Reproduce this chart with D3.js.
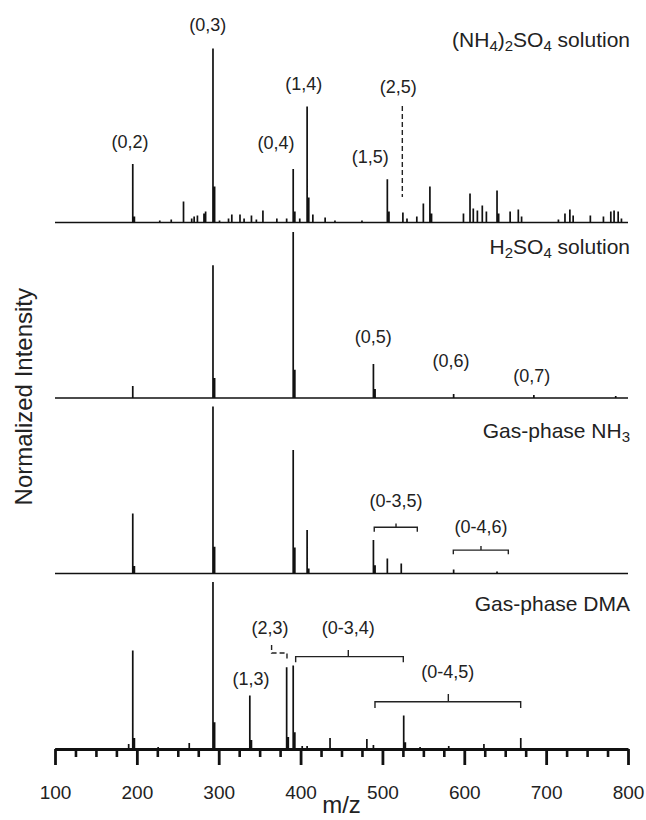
<!DOCTYPE html>
<html>
<head>
<meta charset="utf-8">
<script src="https://cdn.jsdelivr.net/npm/d3@7"></script>
<style>
body{margin:0;background:#fff;}
svg text{font-family:"Liberation Sans",Arial,sans-serif;fill:#222;}
</style>
</head>
<body>
<div id="chart"></div>
<script>
(function(){
var width = 646,
	height = 820,
	x0 = 55,
	x1 = 628;

// panel baselines and full-scale heights (px)
var baselines = [222.5, 398, 573.5, 749],
	heights = [174, 166, 167, 167];

// ---- data: peak m/z and normalized intensity ----
var mzAS  = [195,197,228,242,257,267,270,274,282,284,293,295,301,312,316,326,331,340,346,354,371,383,391,393,399,408,410,415,430,442,475,506,508,525,530,542,550,558,560,599,607,611,616,622,627,640,642,656,666,670,715,723,729,733,754,770,779,783,788,792];
var intAS = [0.336,0.034,0.011,0.017,0.12,0.023,0.034,0.04,0.052,0.063,1.0,0.207,0.011,0.023,0.046,0.046,0.023,0.04,0.017,0.069,0.023,0.023,0.307,0.063,0.023,0.666,0.144,0.046,0.029,0.011,0.011,0.248,0.063,0.057,0.023,0.034,0.109,0.207,0.052,0.052,0.167,0.08,0.069,0.098,0.063,0.184,0.052,0.063,0.075,0.034,0.017,0.052,0.075,0.04,0.04,0.034,0.063,0.069,0.063,0.023];

var mzSA  = [195,293,295,391,393,489,491,587,685,785];
var intSA = [0.072,0.80,0.12,1.0,0.17,0.205,0.054,0.024,0.018,0.012];

var mzNH3  = [195,197,293,295,391,393,408,410,489,491,506,523,587,640];
var intNH3 = [0.36,0.045,1.0,0.16,0.74,0.155,0.26,0.03,0.2,0.05,0.09,0.06,0.024,0.012];

var mzDMA  = [158,190,195,197,226,264,293,295,338,340,383,385,391,393,402,408,436,481,489,526,528,546,581,624,669,770];
var intDMA = [0.006,0.03,0.59,0.066,0.012,0.036,1.0,0.16,0.32,0.054,0.49,0.072,0.5,0.1,0.018,0.018,0.066,0.06,0.024,0.2,0.04,0.012,0.018,0.03,0.066,0.006];

var spectra = [[mzAS,intAS],[mzSA,intSA],[mzNH3,intNH3],[mzDMA,intDMA]];

var titles = [
	[["(NH",0],["4",1],[")",0],["2",1],["SO",0],["4",1],[" solution",0]],
	[["H",0],["2",1],["SO",0],["4",1],[" solution",0]],
	[["Gas-phase NH",0],["3",1]],
	[["Gas-phase DMA",0]]
];

// [panel, text, m/z, intensity]
var peakLabels = [
	[0,"(0,2)",191.6,0.43],
	[0,"(0,3)",286.5,1.10],
	[0,"(0,4)",370,0.42],
	[0,"(1,4)",404,0.76],
	[0,"(1,5)",485,0.342],
	[0,"(2,5)",519.4,0.746],
	[1,"(0,5)",488.8,0.33],
	[1,"(0,6)",583.7,0.184],
	[1,"(0,7)",682.3,0.098],
	[2,"(0-3,5)",516.6,0.40],
	[2,"(0-4,6)",620.4,0.24],
	[3,"(2,3)",362.6,0.69],
	[3,"(0-3,4)",458.3,0.69],
	[3,"(1,3)",339.4,0.383],
	[3,"(0-4,5)",579.7,0.425]
];

// [panel, from, to, mid, bar, leg end, tip]
var brackets = [
	[2,490,542.6,516.6,0.277,0.25,0.30],
	[2,586.6,653.8,620.4,0.14,0.115,0.165],
	[3,394,525.5,458.3,0.553,0.52,0.593],
	[3,490.9,668.9,580.5,0.283,0.245,0.33]
];

var dashed = [
	[0,[[524.3,0.67],[524.3,0.147]]],
	[3,[[364.6,0.623],[364.6,0.575],[383.4,0.575],[383.4,0.533]]]
];

var majorTicks = [100,200,300,400,500,600,700,800];
var minorTicks = d3.range(125,800,25).filter(function(v){return v % 100 != 0;});

// ---- scales ----
var X = d3.scaleLinear().domain([100,800]).range([x0,x1]);
var Y = baselines.map(function(b,i){
	return d3.scaleLinear().domain([0,1]).range([b, b - heights[i]]);
});

var svg = d3.select("#chart").append("svg")
	.attr("width",width)
	.attr("height",height);

// spectra
spectra.forEach(function(s,i){
	var pts = [[100,0]];
	s[0].forEach(function(m,k){ pts.push([m,0],[m,s[1][k]],[m,0]); });
	pts.push([800,0]);
	var line = d3.line().x(function(d){return X(d[0]);}).y(function(d){return Y[i](d[1]);});
	svg.append("path")
		.attr("d",line(pts))
		.attr("fill","none")
		.attr("stroke","#111")
		.attr("stroke-width",1.7)
		.attr("stroke-linejoin","miter");
});

// titles
titles.forEach(function(parts,i){
	var t = svg.append("text")
		.attr("x",630)
		.attr("y",[46.7,254.3,438.3,610.7][i])
		.attr("text-anchor","end")
		.style("font-size","21px");
	var sub = false;
	parts.forEach(function(p){
		var ts = t.append("tspan").text(p[0]);
		if (p[1] && !sub) { ts.attr("dy",4).style("font-size","15px"); sub = true; }
		else if (p[1]) { ts.style("font-size","15px"); }
		else if (sub) { ts.attr("dy",-4); sub = false; }
	});
});

// peak labels
svg.selectAll(".plabel").data(peakLabels).enter().append("text")
	.attr("class","plabel")
	.attr("x",function(d){return X(d[2]);})
	.attr("y",function(d){return Y[d[0]](d[3]);})
	.attr("text-anchor","middle")
	.style("font-size","18px")
	.text(function(d){return d[1];});

// brackets
brackets.forEach(function(b){
	var y = Y[b[0]];
	var p = d3.path();
	p.moveTo(X(b[1]),y(b[5]));
	p.lineTo(X(b[1]),y(b[4]));
	p.lineTo(X(b[2]),y(b[4]));
	p.lineTo(X(b[2]),y(b[5]));
	p.moveTo(X(b[3]),y(b[4]));
	p.lineTo(X(b[3]),y(b[6]));
	svg.append("path").attr("d",p.toString())
		.attr("fill","none").attr("stroke","#222").attr("stroke-width",1.4);
});

// dashed guides
dashed.forEach(function(d){
	var y = Y[d[0]];
	var line = d3.line().x(function(p){return X(p[0]);}).y(function(p){return y(p[1]);});
	svg.append("path").attr("d",line(d[1]))
		.attr("fill","none").attr("stroke","#222").attr("stroke-width",1.4)
		.attr("stroke-dasharray","5,3");
});

// x axis
var axisG = svg.append("g").attr("transform","translate(0,"+baselines[3]+")");
axisG.call(d3.axisBottom(X).tickValues(minorTicks).tickSize(8).tickSizeOuter(0).tickFormat(""));
axisG.selectAll("line").attr("stroke","#111").attr("stroke-width",2.6);
axisG.select(".domain").remove();

var axisM = svg.append("g").attr("transform","translate(0,"+baselines[3]+")");
axisM.call(d3.axisBottom(X).tickValues(majorTicks).tickSize(16).tickSizeOuter(0).tickPadding(21));
axisM.select(".domain").attr("stroke","#111").attr("stroke-width",3);
axisM.selectAll("line").attr("stroke","#111").attr("stroke-width",2.8);
axisM.selectAll("text")
	.attr("fill","#222")
	.style("font-family","'Liberation Sans',Arial,sans-serif")
	.style("font-size","19px");

svg.append("text")
	.attr("x",(x0+x1)/2)
	.attr("y",813)
	.attr("text-anchor","middle")
	.style("font-size","24px")
	.text("m/z");

svg.append("text")
	.attr("transform","translate(31.5,396.7) rotate(-90)")
	.attr("text-anchor","middle")
	.style("font-size","24px")
	.text("Normalized Intensity");

})()
</script>
</body>
</html>
